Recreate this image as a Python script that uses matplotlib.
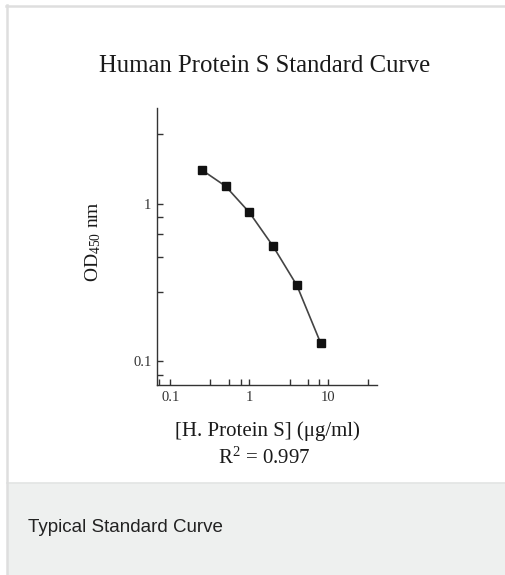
import matplotlib
matplotlib.use("Agg")
import matplotlib.pyplot as plt
from matplotlib.patches import Rectangle
from matplotlib.lines import Line2D
from matplotlib.ticker import FixedLocator, NullFormatter

plt.rcParams['font.family'] = ['Liberation Serif', 'DejaVu Serif']
plt.rcParams['mathtext.fontset'] = 'custom'
plt.rcParams['mathtext.rm'] = 'Liberation Serif'
plt.rcParams['mathtext.it'] = 'Liberation Serif:italic'
plt.rcParams['mathtext.bf'] = 'Liberation Serif:bold'

# Data
concentration = [0.25, 0.5, 1, 2, 4, 8]          # µg/ml
od450 = [1.65, 1.30, 0.885, 0.538, 0.303, 0.130]

x_major = [0.1, 1, 10]
x_major_labels = ["0.1", "1", "10"]
x_minor = [0.073, 0.32, 0.55, 0.78, 3.27, 5.5, 7.7, 32]
y_major = [0.1, 1]
y_major_labels = ["0.1", "1"]
y_minor = [0.081, 0.275, 0.46, 0.64, 0.83, 2.8]

title = "Human Protein S Standard Curve"
xlabel = "[H. Protein S] (\u03bcg/ml)"
ylabel = "OD$_{450}$ nm"
r2_text = "R$^2$ = 0.997"
caption = "Typical Standard Curve"

W, H = 505, 575
fig = plt.figure(figsize=(W / 100, H / 100), dpi=100)
fig.patch.set_facecolor("white")

def fx(px):
    return px / W

def fy(py):
    return 1 - py / H

# Card background / borders
fig.add_artist(Rectangle((fx(7), fy(575)), fx(505 - 7), 92 / H,
                         transform=fig.transFigure, facecolor="#eef0ef",
                         edgecolor="none", zorder=0))
fig.add_artist(Line2D([fx(7), fx(505)], [fy(483), fy(483)],
                      transform=fig.transFigure, color="#e2e4e3", lw=1.2, zorder=1))
fig.add_artist(Line2D([fx(6), fx(505)], [fy(5.5), fy(5.5)],
                      transform=fig.transFigure, color="#dedede", lw=1.8, zorder=1))
fig.add_artist(Line2D([fx(6.5), fx(6.5)], [fy(5), fy(575)],
                      transform=fig.transFigure, color="#dedede", lw=1.8, zorder=1))

# Axes
left, right, top, bottom = 157, 377, 108, 385
ax = fig.add_axes([fx(left), fy(bottom), fx(right - left), (bottom - top) / H])
ax.set_facecolor("none")
ax.set_xscale("log")
ax.set_yscale("log")
ax.set_xlim(0.0679, 41.3)
ax.set_ylim(0.0703, 4.09)

ax.plot(concentration, od450, color="#444444", lw=1.2, marker="s",
        markersize=5.5, markerfacecolor="#111111", markeredgecolor="#111111")

for s in ["top", "right"]:
    ax.spines[s].set_visible(False)
for s in ["left", "bottom"]:
    ax.spines[s].set_color("#333333")
    ax.spines[s].set_linewidth(1.0)

ax.xaxis.set_major_locator(FixedLocator(x_major))
ax.set_xticklabels(x_major_labels)
ax.xaxis.set_minor_locator(FixedLocator(x_minor))
ax.xaxis.set_minor_formatter(NullFormatter())
ax.yaxis.set_major_locator(FixedLocator(y_major))
ax.set_yticklabels(y_major_labels)
ax.yaxis.set_minor_locator(FixedLocator(y_minor))
ax.yaxis.set_minor_formatter(NullFormatter())

ax.tick_params(which="both", direction="in", color="#333333", width=1.0)
ax.tick_params(which="major", length=4, labelsize=10.5, labelcolor="#333333", pad=4)
ax.tick_params(which="minor", length=4)

# Texts
fig.text(fx(265), fy(66), title, ha="center", va="center", fontsize=17.8, color="#1a1a1a")
fig.text(fx(93), fy(242), ylabel, ha="center", va="center", rotation=90,
         fontsize=14, color="#1a1a1a")
fig.text(fx(267), fy(431), xlabel, ha="center", va="center", fontsize=15, color="#1a1a1a")
fig.text(fx(264), fy(458), r2_text, ha="center", va="center", fontsize=15, color="#1a1a1a")
fig.text(fx(28), fy(528), caption, ha="left", va="center", fontsize=13.5,
         color="#222222", family=["Liberation Sans", "DejaVu Sans"])

fig.savefig("out.png", dpi=100)
